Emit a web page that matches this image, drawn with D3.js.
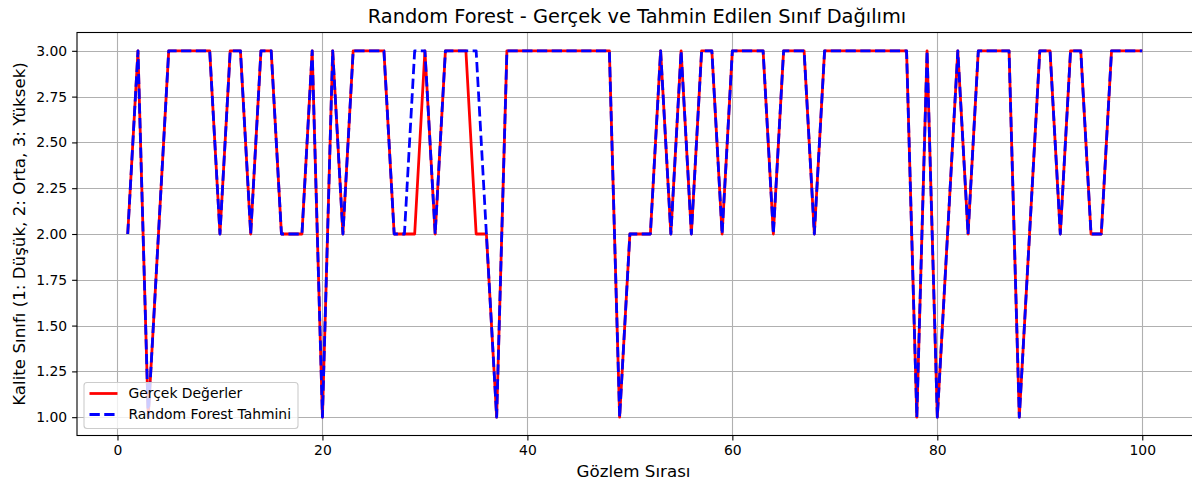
<!DOCTYPE html>
<html>
<head>
<meta charset="utf-8">
<script src="https://cdn.jsdelivr.net/npm/d3@7/dist/d3.min.js"></script>
<style>
  html, body { margin: 0; padding: 0; background: #fff; }
  svg { display: block; font-family: "DejaVu Sans", sans-serif; }
</style>
</head>
<body>
<svg id="chart" width="1192" height="484"></svg>
<script>
// ---- data ----
const observations = d3.range(1, 101);
const actualValues = [
  2,3,1,2,3,3,3,3,3,2, 3,3,2,3,3,2,2,2,3,1,
  3,2,3,3,3,3,2,2,2,3, 2,3,3,3,2,2,1,3,3,3,
  3,3,3,3,3,3,3,3,1,2, 2,2,3,2,3,2,3,3,2,3,
  3,3,3,2,3,3,3,2,3,3, 3,3,3,3,3,3,3,1,3,1,
  2,3,2,3,3,3,3,1,2,3, 3,2,3,3,2,2,3,3,3,3
];
const predictedValues = [
  2,3,1,2,3,3,3,3,3,2, 3,3,2,3,3,2,2,2,3,1,
  3,2,3,3,3,3,2,2,3,3, 2,3,3,3,3,2,1,3,3,3,
  3,3,3,3,3,3,3,3,1,2, 2,2,3,2,3,2,3,3,2,3,
  3,3,3,2,3,3,3,2,3,3, 3,3,3,3,3,3,3,1,3,1,
  2,3,2,3,3,3,3,1,2,3, 3,2,3,3,2,2,3,3,3,3
];
const xTicks = [0, 20, 40, 60, 80, 100];
const yTicks = [1.00, 1.25, 1.50, 1.75, 2.00, 2.25, 2.50, 2.75, 3.00];
const titleText = "Random Forest - Gerçek ve Tahmin Edilen Sınıf Dağılımı";
const xLabelText = "Gözlem Sırası";
const yLabelText = "Kalite Sınıfı (1: Düşük, 2: Orta, 3: Yüksek)";
const legendLabels = ["Gerçek Değerler", "Random Forest Tahmini"];

// ---- layout ----
const svg = d3.select("#chart");
const L = 77, R = 1193, T = 32.5, B = 435.5;

const x = d3.scaleLinear().domain([-3.95, 104.95]).range([L, R]);
const y = d3.scaleLinear().domain([0.9, 3.1]).range([B, T]);

// grid
const grid = svg.append("g");
grid.selectAll(".gx").data(xTicks).join("line")
  .attr("x1", d => Math.round(x(d)) + 0.5).attr("x2", d => Math.round(x(d)) + 0.5)
  .attr("y1", T).attr("y2", B)
  .attr("stroke", "#b0b0b0").attr("stroke-width", 1.1);
grid.selectAll(".gy").data(yTicks).join("line")
  .attr("y1", d => Math.round(y(d)) + 0.5).attr("y2", d => Math.round(y(d)) + 0.5)
  .attr("x1", L).attr("x2", R)
  .attr("stroke", "#b0b0b0").attr("stroke-width", 1.1);

// lines
const line = d3.line().x((d, i) => x(observations[i])).y(d => y(d));
const plot = svg.append("g");
plot.append("path").datum(actualValues)
  .attr("d", line).attr("fill", "none")
  .attr("stroke", "#ff0000").attr("stroke-width", 2.78)
  .attr("stroke-linejoin", "round");
plot.append("path").datum(predictedValues)
  .attr("d", line).attr("fill", "none")
  .attr("stroke", "#0000ff").attr("stroke-width", 2.78)
  .attr("stroke-dasharray", "10.3,4.45")
  .attr("stroke-linejoin", "round");

// axes
const xAxis = d3.axisBottom(x).tickValues(xTicks).tickFormat(d3.format("d"))
  .tickSize(4.9).tickPadding(4.9);
const yAxis = d3.axisLeft(y).tickValues(yTicks).tickFormat(d3.format(".2f"))
  .tickSize(4.9).tickPadding(4.9);

const gx = svg.append("g").attr("transform", `translate(0,${B})`).call(xAxis);
const gy = svg.append("g").attr("transform", `translate(${L},0)`).call(yAxis);
[gx, gy].forEach(g => {
  g.select(".domain").remove();
  g.selectAll(".tick line").attr("stroke", "#000").attr("stroke-width", 1.1);
  g.selectAll(".tick text").attr("fill", "#000")
    .style("font-family", "DejaVu Sans").style("font-size", "13.9px");
});

// frame
svg.append("rect").attr("x", L).attr("y", T).attr("width", R - L).attr("height", B - T)
  .attr("fill", "none").attr("stroke", "#000").attr("stroke-width", 1.1);

// legend
const lg = svg.append("g");
lg.append("rect").attr("x", 84).attr("y", 382.5).attr("width", 214).attr("height", 46)
  .attr("rx", 3).attr("fill", "rgba(255,255,255,0.8)").attr("stroke", "#cccccc").attr("stroke-width", 1.1);
const legendRows = [
  { label: legendLabels[0], color: "#ff0000", dash: null, cy: 393.5 },
  { label: legendLabels[1], color: "#0000ff", dash: "10.3,4.45", cy: 414.5 }
];
legendRows.forEach(r => {
  lg.append("line").attr("x1", 89.5).attr("x2", 117.5).attr("y1", r.cy).attr("y2", r.cy)
    .attr("stroke", r.color).attr("stroke-width", 2.78)
    .attr("stroke-dasharray", r.dash);
  lg.append("text").attr("x", 128.5).attr("y", r.cy).attr("dy", "0.35em")
    .attr("fill", "#000").style("font-size", "13.9px").text(r.label);
});

// title & labels
svg.append("text").attr("x", 637).attr("y", 23)
  .attr("text-anchor", "middle").style("font-size", "19.4px").attr("fill", "#000").text(titleText);
svg.append("text").attr("x", (L + 1190) / 2).attr("y", 477)
  .attr("text-anchor", "middle").style("font-size", "16.7px").attr("fill", "#000").text(xLabelText);
svg.append("text").attr("transform", `translate(25,${(T + B) / 2}) rotate(-90)`)
  .attr("text-anchor", "middle").style("font-size", "16.7px").attr("fill", "#000").text(yLabelText);
</script>
</body>
</html>
